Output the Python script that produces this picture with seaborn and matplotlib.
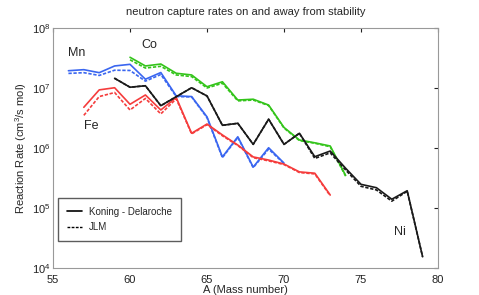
import numpy as np
import pandas as pd
import matplotlib
matplotlib.use('Agg')
import matplotlib.pyplot as plt
import seaborn as sns
from matplotlib.lines import Line2D

# mass numbers per element
mn_a = list(range(56, 71))
co_a = list(range(60, 75))
fe_a = list(range(57, 74))
ni_a = list(range(59, 80))

# Koning - Delaroche rates
mn_kd = [1.94e7, 2.02e7, 1.80e7, 2.33e7, 2.48e7, 1.40e7, 1.81e7, 7.4e6, 7.2e6,
         3.3e6, 7.1e5, 1.54e6, 4.8e5, 1.01e6, 5.6e5]
co_kd = [3.25e7, 2.33e7, 2.51e7, 1.76e7, 1.65e7, 1.05e7, 1.27e7, 6.3e6, 6.5e6,
         5.2e6, 2.2e6, 1.36e6, 1.22e6, 1.08e6, 3.5e5]
fe_kd = [4.77e6, 9.3e6, 1.01e7, 5.35e6, 7.65e6, 4.3e6, 6.95e6, 1.76e6, 2.51e6,
         1.65e6, 1.12e6, 7.1e5, 6.3e5, 5.4e5, 4.0e5, 3.8e5, 1.65e5]
ni_kd = [1.45e7, 1.03e7, 1.09e7, 5.07e6, 7.16e6, 1.01e7, 7.36e6, 2.39e6, 2.58e6,
         1.15e6, 3.02e6, 1.15e6, 1.76e6, 7.16e5, 8.9e5, 4.6e5, 2.48e5, 2.18e5,
         1.40e5, 1.94e5, 1.54e4]

# JLM rates
mn_jlm = [1.75e7, 1.8e7, 1.62e7, 1.98e7, 1.96e7, 1.3e7, 1.68e7, 7.2e6, 7.1e6,
          3.2e6, 6.9e5, 1.5e6, 4.7e5, 9.6e5, 5.5e5]
co_jlm = [2.95e7, 2.15e7, 2.3e7, 1.65e7, 1.55e7, 1.0e7, 1.2e7, 6.1e6, 6.3e6,
          5.1e6, 2.15e6, 1.33e6, 1.2e6, 1.05e6, 3.4e5]
fe_jlm = [3.5e6, 7.2e6, 8.4e6, 4.3e6, 6.7e6, 3.7e6, 6.6e6, 1.72e6, 2.45e6,
          1.6e6, 1.1e6, 6.9e5, 6.1e5, 5.3e5, 3.9e5, 3.7e5, 1.6e5]
ni_jlm = [1.45e7, 1.03e7, 1.09e7, 5.07e6, 7.16e6, 1.01e7, 7.36e6, 2.39e6, 2.58e6,
          1.15e6, 3.02e6, 1.15e6, 1.76e6, 6.7e5, 8.3e5, 4.3e5, 2.3e5, 2.0e5,
          1.3e5, 1.9e5, 1.54e4]

x_ticks = [55, 60, 65, 70, 75, 80]

colors = {'Mn': '#3a66f0', 'Co': '#33c41a', 'Fe': '#f53c3c', 'Ni': '#1a1a1a'}


def build_frame():
    rows = []
    series = [('Mn', mn_a, mn_kd, mn_jlm), ('Co', co_a, co_kd, co_jlm),
              ('Fe', fe_a, fe_kd, fe_jlm), ('Ni', ni_a, ni_kd, ni_jlm)]
    for name, a, kd, jlm in series:
        for ai, k, j in zip(a, kd, jlm):
            rows.append({'A': ai, 'rate': k, 'element': name, 'model': 'Koning - Delaroche'})
            rows.append({'A': ai, 'rate': j, 'element': name, 'model': 'JLM'})
    return pd.DataFrame(rows)


sns.set_style('white')
plt.rcParams['font.family'] = ['Liberation Sans', 'DejaVu Sans']
plt.rcParams['mathtext.fontset'] = 'custom'
plt.rcParams['mathtext.rm'] = 'Liberation Sans'
plt.rcParams['mathtext.it'] = 'Liberation Sans'

df = build_frame()

fig = plt.figure(figsize=(4.79, 2.95), dpi=100)
ax = fig.add_axes([0.1107, 0.0915, 0.8037, 0.8136])

sns.lineplot(data=df, x='A', y='rate', hue='element', style='model',
             palette=colors, dashes={'Koning - Delaroche': '', 'JLM': (2, 1)},
             linewidth=1.2, legend=False, ax=ax)

ax.set_yscale('log')
ax.set_xlim(55, 80)
ax.set_ylim(1e4, 1e8)
ax.set_xticks(x_ticks)
ax.minorticks_off()
ax.tick_params(direction='in', length=3, labelsize=8, colors='#222222',
               top=True, right=True, pad=2)
ax.tick_params(axis='x', pad=5)
for s in ax.spines.values():
    s.set_color('#999999')
    s.set_linewidth(0.8)

ax.set_title('neutron capture rates on and away from stability', fontsize=8, pad=9)
ax.set_xlabel('A (Mass number)', fontsize=8, labelpad=0)
ax.set_ylabel('Reaction Rate (cm$^3$/s mol)', fontsize=8, labelpad=2)

# element names
ax.text(56.54, 3.8e7, 'Mn', fontsize=9, ha='center', va='center')
ax.text(61.23, 5.2e7, 'Co', fontsize=9, ha='center', va='center')
ax.text(57.5, 2.3e6, 'Fe', fontsize=9, ha='center', va='center')
ax.text(77.53, 4.0e4, 'Ni', fontsize=9, ha='center', va='center')

handles = [Line2D([], [], color='black', lw=1.2, ls='-'),
           Line2D([], [], color='black', lw=1.0, dashes=(2, 1))]
leg = ax.legend(handles, ['Koning - Delaroche', 'JLM'], loc='lower left',
                bbox_to_anchor=(0.013, 0.112), borderaxespad=0, fontsize=7,
                frameon=True, fancybox=False, edgecolor='#333333',
                handlelength=1.6, handletextpad=0.7, borderpad=0.9,
                labelspacing=0.6)
leg.get_frame().set_linewidth(1.0)

plt.savefig('out.png', dpi=100)
